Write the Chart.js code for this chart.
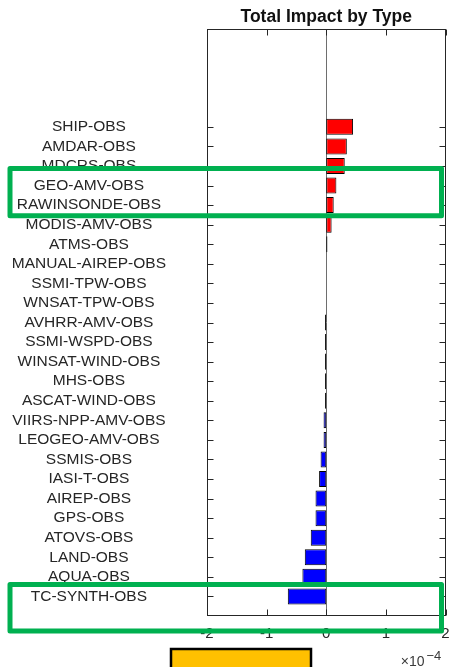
<!DOCTYPE html>
<html>
<head>
<meta charset="utf-8">
<script src="https://cdn.jsdelivr.net/npm/chart.js@4/dist/chart.umd.min.js"></script>
<style>
  html, body { margin: 0; padding: 0; background: #ffffff; }
  canvas { display: block; }
</style>
</head>
<body>
<canvas id="impactChart" width="450" height="667"></canvas>
<script>
// Observation types, listed top to bottom
const categories = [
  'SHIP-OBS', 'AMDAR-OBS', 'MDCRS-OBS', 'GEO-AMV-OBS', 'RAWINSONDE-OBS',
  'MODIS-AMV-OBS', 'ATMS-OBS', 'MANUAL-AIREP-OBS', 'SSMI-TPW-OBS', 'WNSAT-TPW-OBS',
  'AVHRR-AMV-OBS', 'SSMI-WSPD-OBS', 'WINSAT-WIND-OBS', 'MHS-OBS', 'ASCAT-WIND-OBS',
  'VIIRS-NPP-AMV-OBS', 'LEOGEO-AMV-OBS', 'SSMIS-OBS', 'IASI-T-OBS', 'AIREP-OBS',
  'GPS-OBS', 'ATOVS-OBS', 'LAND-OBS', 'AQUA-OBS', 'TC-SYNTH-OBS'
];

// Total impact per observation type
const impact = [
  0.45e-4, 0.345e-4, 0.31e-4, 0.17e-4, 0.125e-4,
  0.09e-4, 0.02e-4, 0, 0, 0,
  -0.02e-4, -0.02e-4, -0.02e-4, -0.02e-4, -0.02e-4,
  -0.045e-4, -0.045e-4, -0.095e-4, -0.12e-4, -0.18e-4,
  -0.18e-4, -0.26e-4, -0.36e-4, -0.40e-4, -0.645e-4
];

// Value-axis ticks and the shared exponent
const xTickValues = [-2e-4, -1e-4, 0, 1e-4, 2e-4];
const exponentBase = '\u00d710';
const exponentPower = '\u22124';
const chartTitle = 'Total Impact by Type';

// Bar positions along the category axis (bottom bar sits at 1)
const positions = categories.map((_, i) => categories.length - i);

const FONT = '"Liberation Sans", Arial, Helvetica, sans-serif';
const AXIS_COLOR = '#262626';

const axesFrame = {
  id: 'axesFrame',
  beforeDatasetsDraw(chart) {
    const { ctx, chartArea: a, scales: { x } } = chart;
    const x0 = Math.round(x.getPixelForValue(0)) + 0.5;
    ctx.save();
    ctx.strokeStyle = '#6e6e6e';
    ctx.lineWidth = 1;
    ctx.beginPath();
    ctx.moveTo(x0, a.top);
    ctx.lineTo(x0, a.bottom);
    ctx.stroke();
    ctx.restore();
  },
  afterDatasetsDraw(chart) {
    const { ctx, chartArea: a, scales: { x, y } } = chart;
    const L = Math.round(a.left) + 0.5, R = Math.round(a.right) - 0.5;
    const T = Math.round(a.top) + 0.5, B = Math.round(a.bottom) - 0.5;
    const tick = 6;
    ctx.save();
    ctx.strokeStyle = AXIS_COLOR;
    ctx.lineWidth = 1;
    ctx.strokeRect(L, T, R - L, B - T);
    ctx.beginPath();
    xTickValues.forEach(v => {
      const px = Math.round(x.getPixelForValue(v)) + 0.5;
      ctx.moveTo(px, B); ctx.lineTo(px, B - tick);
      ctx.moveTo(px, T); ctx.lineTo(px, T + tick);
    });
    positions.forEach(v => {
      const py = Math.round(y.getPixelForValue(v)) + 0.5;
      ctx.moveTo(L, py); ctx.lineTo(L + tick, py);
      ctx.moveTo(R, py); ctx.lineTo(R - tick, py);
    });
    ctx.stroke();
    ctx.restore();
  },
  afterDraw(chart) {
    const { ctx, chartArea: a, scales: { y } } = chart;
    ctx.save();

    // title, centred over the plot box
    ctx.fillStyle = '#111111';
    ctx.font = 'bold 17.5px ' + FONT;
    ctx.textAlign = 'center';
    ctx.textBaseline = 'alphabetic';
    ctx.fillText(chartTitle, (a.left + a.right) / 2, 22);

    // shared exponent under the value axis
    ctx.fillStyle = '#3a3a3a';
    ctx.textAlign = 'right';
    ctx.font = '14px ' + FONT;
    ctx.fillText(exponentBase, a.right - 21, 666);
    ctx.textAlign = 'left';
    ctx.font = '13px ' + FONT;
    ctx.fillText(exponentPower, a.right - 19, 660);

    // highlight frames around selected observation types
    const frames = [
      [22.87, 20.45],
      [1.61, -0.77]
    ];
    ctx.strokeStyle = '#00B050';
    ctx.lineWidth = 5;
    ctx.lineJoin = 'round';
    frames.forEach(([top, bottom]) => {
      const t = y.getPixelForValue(top);
      const b = y.getPixelForValue(bottom);
      ctx.strokeRect(10, t, a.right - 4 - 10, b - t);
    });

    // yellow label block below the axis
    ctx.fillStyle = '#FFC000';
    ctx.fillRect(171, 649, 140, 22);
    ctx.strokeStyle = '#000000';
    ctx.lineWidth = 2.5;
    ctx.lineJoin = 'miter';
    ctx.strokeRect(171, 649, 140, 22);

    ctx.restore();
  }
};

new Chart(document.getElementById('impactChart'), {
  type: 'bar',
  data: {
    datasets: [{
      data: categories.map((c, i) => ({ x: impact[i], y: positions[i] })),
      backgroundColor: impact.map(v => (v >= 0 ? '#FF0000' : '#0000FF')),
      borderColor: '#000000',
      borderWidth: 1,
      borderSkipped: false,
      barPercentage: 0.82,
      categoryPercentage: 1
    }]
  },
  options: {
    indexAxis: 'y',
    responsive: false,
    devicePixelRatio: 1,
    animation: false,
    layout: { padding: { left: 0, right: 4.5, top: 29, bottom: 0 } },
    plugins: {
      legend: { display: false },
      tooltip: { enabled: false },
      title: { display: false }
    },
    scales: {
      x: {
        type: 'linear',
        min: -2e-4,
        max: 2e-4,
        afterBuildTicks: s => { s.ticks = xTickValues.map(v => ({ value: v })); },
        afterFit: s => {
          s.height = 51;
          s.paddingLeft = 0; s.paddingRight = 0;
          s.paddingTop = 0; s.paddingBottom = 0;
        },
        grid: { display: false, drawTicks: false },
        border: { display: false },
        ticks: {
          padding: 9,
          autoSkip: false,
          maxRotation: 0,
          color: AXIS_COLOR,
          font: { family: FONT, size: 15 },
          callback: v => String(Math.round(v * 1e4))
        }
      },
      y: {
        type: 'linear',
        offset: false,
        min: 0,
        max: 30,
        afterBuildTicks: s => { s.ticks = positions.map(v => ({ value: v })); },
        afterFit: s => {
          s.width = 207;
          s.paddingLeft = 0; s.paddingRight = 0;
          s.paddingTop = 0; s.paddingBottom = 0;
        },
        grid: { display: false, drawTicks: false },
        border: { display: false },
        ticks: {
          crossAlign: 'center',
          padding: 41,
          autoSkip: false,
          color: AXIS_COLOR,
          font: { family: FONT, size: 15.5 },
          callback: v => categories[positions.indexOf(v)]
        }
      }
    }
  },
  plugins: [axesFrame]
});
</script>
</body>
</html>
